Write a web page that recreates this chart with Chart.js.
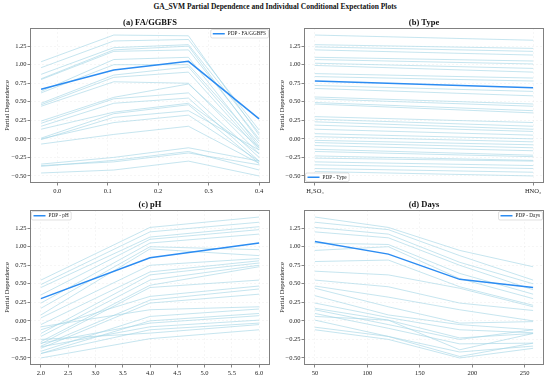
<!DOCTYPE html>
<html>
<head>
<meta charset="utf-8">
<script src="https://cdn.jsdelivr.net/npm/chart.js@4.4.1/dist/chart.umd.min.js"></script>
<style>
  body { margin: 0; background: #fff; }
  #wrap { position: relative; width: 550px; height: 380px; overflow: hidden; }
  #title { position: absolute; left: 0; top: 2px; width: 550px; text-align: center;
           font: bold 7.5px "Liberation Serif", "Times New Roman", serif; color: #111; }
  canvas { position: absolute; }
</style>
</head>
<body>
<div id="wrap">
  <div id="title">GA_SVM Partial Dependence and Individual Conditional Expectation Plots</div>
  <canvas id="chartA" width="275" height="184" style="left:0;top:12px"></canvas>
  <canvas id="chartB" width="275" height="184" style="left:275px;top:12px"></canvas>
  <canvas id="chartC" width="275" height="184" style="left:0;top:194px"></canvas>
  <canvas id="chartD" width="275" height="184" style="left:275px;top:194px"></canvas>
</div>
<script>
// shared y ticks
const yTicks = [-0.5, -0.25, 0, 0.25, 0.5, 0.75, 1.0, 1.25];

// (a) FA/GGBFS
const faX = [-0.032, 0.112, 0.26, 0.40];
const faTicks = [0.0, 0.1, 0.2, 0.3, 0.4];
const faPdp = [0.67, 0.93, 1.045, 0.27];
const faIce = [
  [1.04, 1.40, 1.39, 0.05],
  [0.96, 1.32, 1.34, 0.12],
  [0.87, 1.23, 1.27, 0.08],
  [0.81, 1.20, 1.25, -0.03],
  [0.80, 1.18, 1.20, 0.00],
  [0.64, 1.07, 1.10, -0.10],
  [0.62, 1.00, 1.00, -0.06],
  [0.48, 0.86, 0.97, -0.12],
  [0.46, 0.83, 0.90, -0.15],
  [0.44, 0.77, 0.75, -0.20],
  [0.24, 0.56, 0.74, -0.12],
  [0.21, 0.54, 0.62, -0.25],
  [0.17, 0.48, 0.55, -0.30],
  [0.13, 0.36, 0.48, -0.20],
  [0.01, 0.34, 0.46, -0.33],
  [-0.01, 0.29, 0.38, -0.15],
  [0.00, 0.22, 0.32, -0.30],
  [-0.07, 0.06, 0.17, -0.33],
  [-0.34, -0.25, -0.12, -0.30],
  [-0.37, -0.29, -0.17, -0.42],
  [-0.36, -0.31, -0.19, -0.35],
  [-0.46, -0.42, -0.30, -0.50]
];

// (b) Type
const typeX = [0, 1];
const typeLabels = ["H₂SO₄", "HNO₃"];
const typePdp = [0.78, 0.69];
const typeStart = [1.40, 1.27, 1.24, 1.20, 1.10, 1.07, 1.02, 0.99, 0.88, 0.84, 0.72, 0.68, 0.565, 0.54, 0.49, 0.47, 0.30,
  0.265, 0.23, 0.185, 0.13, 0.07, 0.03, -0.02, -0.05, -0.09, -0.14, -0.17, -0.23, -0.26, -0.31, -0.35, -0.40, -0.44];
const typeEnd = [1.33, 1.22, 1.18, 1.13, 1.05, 1.01, 0.95, 0.90, 0.82, 0.78, 0.64, 0.58, 0.47, 0.44, 0.38, 0.35, 0.22,
  0.17, 0.13, 0.10, 0.05, 0.00, -0.04, -0.08, -0.12, -0.16, -0.22, -0.24, -0.29, -0.30, -0.36, -0.40, -0.45, -0.50];

// (c) pH
const phX = [2, 4, 6];
const phTicks = [2.0, 2.5, 3.0, 3.5, 4.0, 4.5, 5.0, 5.5, 6.0];
const phPdp = [0.30, 0.85, 1.05];
const phIce = [
  [0.55, 1.26, 1.40],
  [0.49, 1.20, 1.33],
  [0.45, 1.13, 1.27],
  [0.35, 1.10, 1.23],
  [0.24, 1.05, 1.17],
  [0.17, 1.00, 0.96],
  [0.08, 0.97, 0.88],
  [0.04, 0.75, 0.84],
  [-0.05, 0.66, 0.81],
  [-0.17, 0.62, 0.78],
  [-0.21, 0.55, 0.75],
  [-0.28, 0.48, 0.73],
  [-0.31, 0.45, 0.55],
  [-0.12, 0.33, 0.47],
  [-0.34, 0.28, 0.43],
  [-0.37, 0.24, 0.36],
  [-0.08, 0.15, 0.19],
  [-0.41, 0.06, 0.16],
  [-0.44, 0.00, 0.10],
  [-0.30, -0.03, 0.07],
  [-0.35, -0.08, 0.01],
  [-0.44, -0.12, -0.03],
  [-0.25, -0.165, -0.05],
  [-0.50, -0.24, -0.12]
];

// (d) Days
const daysX = [50, 120, 188, 258];
const daysTicks = [50, 100, 150, 200, 250];
const daysPdp = [1.07, 0.90, 0.56, 0.45];
const daysIce = [
  [1.40, 1.26, 0.95, 0.73],
  [1.33, 1.23, 0.88, 0.55],
  [1.26, 1.17, 0.79, 0.50],
  [1.20, 1.12, 0.75, 0.42],
  [1.05, 1.03, 0.64, 0.36],
  [0.95, 1.00, 0.57, 0.30],
  [0.80, 0.82, 0.46, 0.21],
  [0.67, 0.62, 0.44, 0.19],
  [0.55, 0.46, 0.24, 0.14],
  [0.47, 0.32, 0.15, 0.00],
  [0.44, 0.19, -0.03, -0.01],
  [0.34, 0.08, -0.05, -0.12],
  [0.24, 0.045, -0.12, -0.16],
  [0.17, 0.01, -0.23, -0.17],
  [0.15, -0.05, -0.25, -0.12],
  [0.10, -0.10, -0.31, -0.30],
  [0.06, 0.01, -0.39, -0.17],
  [0.01, -0.21, -0.42, -0.34],
  [-0.085, -0.21, -0.48, -0.30],
  [-0.12, -0.25, -0.50, -0.37]
];

const serif = '"Liberation Serif", "Times New Roman", serif';
const pdpColor = "#2b8cf2";
const iceColor = "rgba(165, 214, 230, 0.8)";

function fmtMinus(s) { return s.replace("-", "\u2212"); }

// frame, subplot title and legend drawn on top of each panel
const panelDeco = {
  id: "panelDeco",
  afterDraw(chart, args, o) {
    const { ctx, chartArea: a } = chart;
    ctx.save();
    ctx.strokeStyle = "#808080";
    ctx.lineWidth = 1;
    ctx.strokeRect(a.left + 0.5, a.top + 0.5, a.right - a.left - 1, a.bottom - a.top - 1);

    ctx.fillStyle = "#111";
    ctx.font = "bold 8.5px " + serif;
    ctx.textAlign = "center";
    ctx.textBaseline = "alphabetic";
    ctx.fillText(o.title, (a.left + a.right) / 2, a.top - 3);

    // legend box
    ctx.font = "5.2px " + serif;
    const tw = ctx.measureText(o.label).width;
    const w = 2 + 12 + 3 + tw + 2.5, h = 8.5;
    let x = o.loc.includes("r") ? a.right - 1.5 - w : a.left + 1.5;
    let y = o.loc.includes("u") ? a.top + 1.5 : a.bottom - 1.5 - h;
    ctx.fillStyle = "rgba(255,255,255,0.85)";
    ctx.strokeStyle = "rgba(0,0,0,0.2)";
    ctx.lineWidth = 0.6;
    ctx.beginPath();
    ctx.roundRect(x, y, w, h, 1.5);
    ctx.fill();
    ctx.stroke();
    ctx.strokeStyle = pdpColor;
    ctx.lineWidth = 1.5;
    ctx.beginPath();
    ctx.moveTo(x + 2, y + h / 2);
    ctx.lineTo(x + 14, y + h / 2);
    ctx.stroke();
    ctx.fillStyle = "#222";
    ctx.textAlign = "left";
    ctx.textBaseline = "middle";
    ctx.fillText(o.label, x + 17, y + h / 2 + 0.3);
    ctx.restore();
  }
};

function buildDatasets(xs, pdp, ice) {
  const ds = [{
    data: xs.map((x, i) => ({ x: x, y: pdp[i] })),
    borderColor: pdpColor, borderWidth: 1.5, order: 0
  }];
  ice.forEach(row => ds.push({
    data: xs.map((x, i) => ({ x: x, y: row[i] })),
    borderColor: iceColor, borderWidth: 0.8, order: 1
  }));
  return ds;
}

function makePanel(id, p) {
  const gridOpts = { color: "rgba(0,0,0,0.06)", lineWidth: 0.6, tickColor: "#666", tickLength: 2.5, tickWidth: 0.8 };
  new Chart(document.getElementById(id), {
    type: "line",
    data: { datasets: buildDatasets(p.xs, p.pdp, p.ice) },
    options: {
      responsive: false,
      animation: false,
      devicePixelRatio: 1,
      layout: { padding: { top: 16, right: p.padRight, left: 0, bottom: 0 } },
      elements: { point: { radius: 0 }, line: { tension: 0 } },
      plugins: {
        legend: { display: false },
        tooltip: { enabled: false },
        panelDeco: { title: p.title, label: p.label, loc: p.loc }
      },
      scales: {
        x: {
          type: "linear",
          min: p.xMin, max: p.xMax,
          afterBuildTicks: s => { s.ticks = p.xTicks.map(v => ({ value: v })); },
          afterFit: s => { s.height = 13; },
          ticks: { callback: p.xFmt, font: { family: serif, size: 6.5 }, color: "#222", padding: 1.5, maxRotation: 0, autoSkip: false },
          grid: gridOpts,
          border: { display: false, dash: [2, 2] }
        },
        y: {
          min: -0.595, max: 1.495,
          afterBuildTicks: s => { s.ticks = yTicks.map(v => ({ value: v })); },
          afterFit: s => { s.width = p.leftW; },
          ticks: { callback: v => fmtMinus(v.toFixed(2)), font: { family: serif, size: 6.5 }, color: "#222", padding: 1 },
          grid: gridOpts,
          border: { display: false, dash: [2, 2] },
          title: { display: true, text: "Partial Dependence", font: { family: serif, size: 6.5 }, color: "#222", padding: { top: 3, bottom: 0 } }
        }
      }
    },
    plugins: [panelDeco]
  });
}

makePanel("chartA", {
  xs: faX, pdp: faPdp, ice: faIce, title: "(a) FA/GGBFS", label: "PDP - FA/GGBFS", loc: "ur",
  xMin: -0.054, xMax: 0.4216, xTicks: faTicks, xFmt: v => fmtMinus(v.toFixed(1)), leftW: 30, padRight: 5
});
makePanel("chartB", {
  xs: typeX, pdp: typePdp, ice: typeStart.map((v, i) => [v, typeEnd[i]]), title: "(b) Type", label: "PDP - Type", loc: "ll",
  xMin: -0.05, xMax: 1.05, xTicks: typeX, xFmt: v => typeLabels[v], leftW: 29, padRight: 6
});
makePanel("chartC", {
  xs: phX, pdp: phPdp, ice: phIce, title: "(c) pH", label: "PDP - pH", loc: "ul",
  xMin: 1.8, xMax: 6.2, xTicks: phTicks, xFmt: v => v.toFixed(1), leftW: 30, padRight: 5
});
makePanel("chartD", {
  xs: daysX, pdp: daysPdp, ice: daysIce, title: "(d) Days", label: "PDP - Days", loc: "ur",
  xMin: 39.6, xMax: 268.4, xTicks: daysTicks, xFmt: v => String(v), leftW: 29, padRight: 6
});
</script>
</body>
</html>
